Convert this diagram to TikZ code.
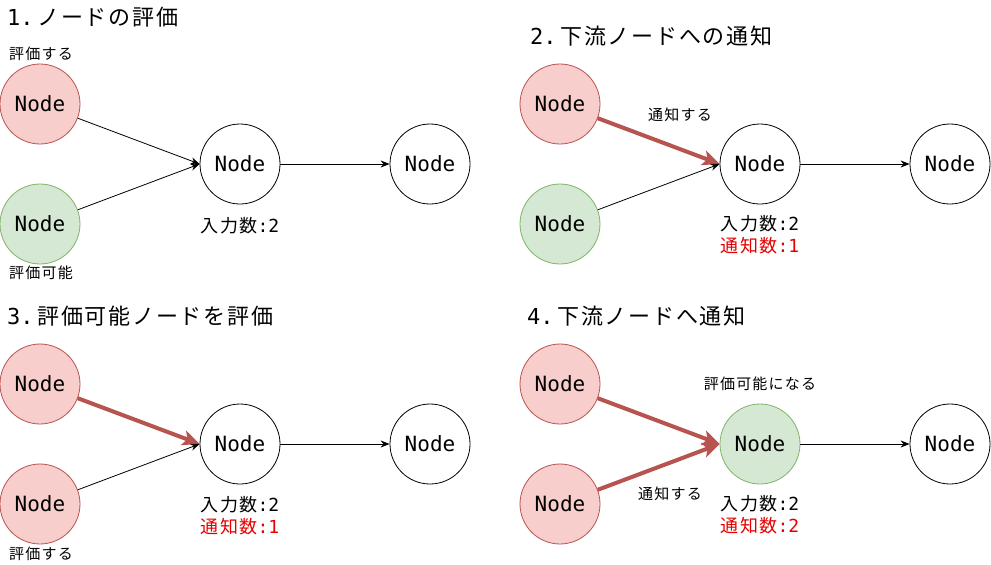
\documentclass[tikz,border=0pt]{standalone}
\usepackage{fontspec}
\setmainfont{Noto Sans CJK JP}[LetterSpace=8]
\newfontfamily\lat{DejaVu Sans Mono}
\usetikzlibrary{arrows.meta}
\definecolor{redfill}{HTML}{F8CECC}
\definecolor{redline}{HTML}{B85450}
\definecolor{greenfill}{HTML}{D5E8D4}
\definecolor{greenline}{HTML}{82B366}
\definecolor{notered}{HTML}{E60000}
\begin{document}
\begin{tikzpicture}[x=1pt,y=-1pt,
  nd/.style={circle,draw=black,fill=white,line width=0.8pt,minimum size=80pt,inner sep=0pt,font=\lat\fontsize{21}{22}\selectfont},
  rednd/.style={nd,draw=redline,fill=redfill},
  greennd/.style={nd,draw=greenline,fill=greenfill},
  title/.style={anchor=west,inner sep=0pt,font=\fontsize{22}{24}\selectfont},
  lbl/.style={inner sep=0pt,font=\fontsize{15}{16}\selectfont},
  cnt/.style={inner sep=0pt,align=center,font=\fontsize{18}{22}\selectfont},
  thin/.style={-{Stealth[length=9pt,width=7pt]},line width=0.8pt},
  thick/.style={-{Stealth[length=17pt,width=15pt,inset=4pt]},line width=4pt,draw=redline}]
\fill[white] (0,0) rectangle (991,565);
\useasboundingbox (0,0) rectangle (991,565);

% Panel 1
\node[title] (t1) at (7,17) {{\lat 1.}\,ノードの評価};
\node[rednd] (a1) at (40,104) {Node};
\node[greennd] (b1) at (40,224) {Node};
\node[nd] (m1) at (240,164) {Node};
\node[nd] (r1) at (430,164) {Node};
\node[lbl] (la1) at (41,54) {評価する};
\node[lbl] (lb1) at (41,273) {評価可能};
\node[cnt] (c1) at (240,226) {入力数{\lat :2}};
\draw[thin] (a1) -- (m1.west);
\draw[thin] (b1) -- (m1.west);
\draw[thin] (m1) -- (r1);

% Panel 2
\node[title] (t2) at (530,36) {{\lat 2.}\,下流ノードへの通知};
\node[rednd] (a2) at (560,104) {Node};
\node[greennd] (b2) at (560,224) {Node};
\node[nd] (m2) at (760,164) {Node};
\node[nd] (r2) at (950,164) {Node};
\node[lbl] (la2) at (680,115) {通知する};
\node[cnt] (c2) at (760,235) {入力数{\lat :2}\\\textcolor{notered}{通知数{\lat :1}}};
\draw[thick] (a2) -- (m2.west);
\draw[thin] (b2) -- (m2.west);
\draw[thin] (m2) -- (r2);

% Panel 3
\node[title] (t3) at (7,316) {{\lat 3.}\,評価可能ノードを評価};
\node[rednd] (a3) at (40,384) {Node};
\node[rednd] (b3) at (40,504) {Node};
\node[nd] (m3) at (240,444) {Node};
\node[nd] (r3) at (430,444) {Node};
\node[lbl] (lb3) at (41,554) {評価する};
\node[cnt] (c3) at (240,516) {入力数{\lat :2}\\\textcolor{notered}{通知数{\lat :1}}};
\draw[thick] (a3) -- (m3.west);
\draw[thin] (b3) -- (m3.west);
\draw[thin] (m3) -- (r3);

% Panel 4
\node[title] (t4) at (527,316) {{\lat 4.}\,下流ノードへ通知};
\node[rednd] (a4) at (560,384) {Node};
\node[rednd] (b4) at (560,504) {Node};
\node[greennd] (m4) at (760,444) {Node};
\node[nd] (r4) at (950,444) {Node};
\node[lbl] (lm4) at (760,384) {評価可能になる};
\node[lbl] (lb4) at (670,494) {通知する};
\node[cnt] (c4) at (760,515) {入力数{\lat :2}\\\textcolor{notered}{通知数{\lat :2}}};
\draw[thick] (a4) -- (m4.west);
\draw[thick] (b4) -- (m4.west);
\draw[thin] (m4) -- (r4);
\end{tikzpicture}
\end{document}
